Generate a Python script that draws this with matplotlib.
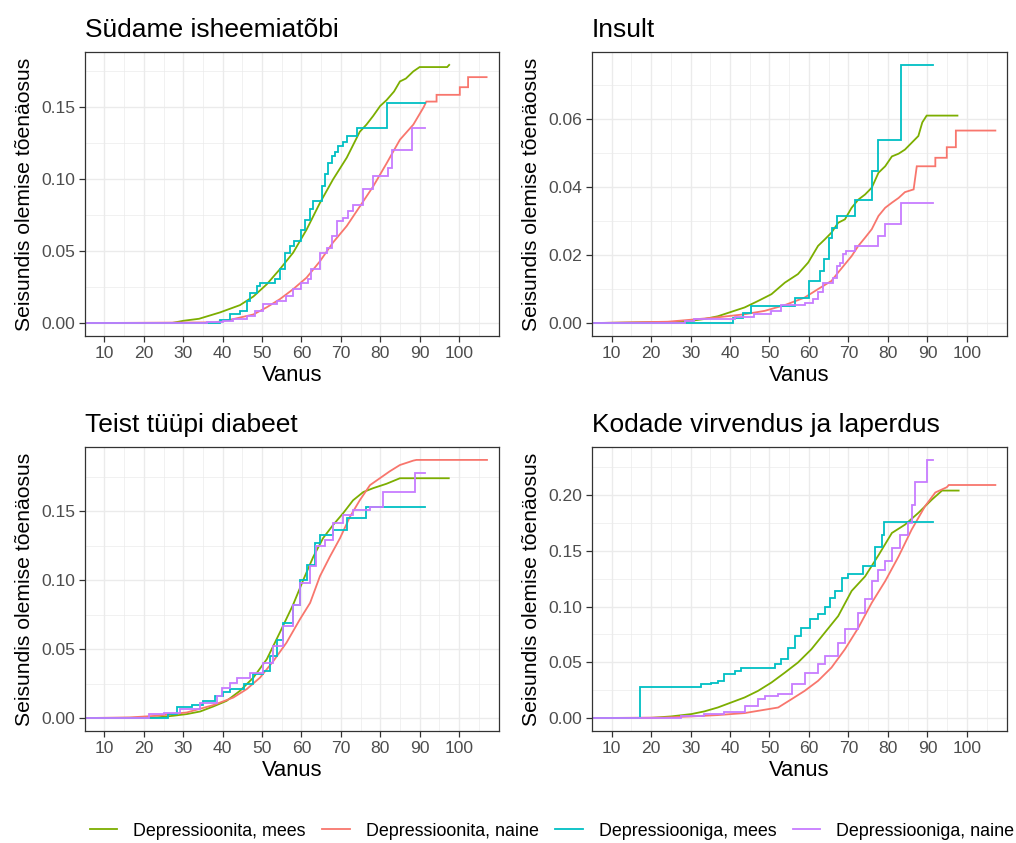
import matplotlib
matplotlib.use("Agg")
import matplotlib.pyplot as plt
from matplotlib.lines import Line2D
from matplotlib.ticker import FixedLocator, FormatStrFormatter

plt.rcParams['font.family'] = ['Liberation Sans', 'DejaVu Sans']

group_labels = ['Depressioonita, mees', 'Depressioonita, naine',
                'Depressiooniga, mees', 'Depressiooniga, naine']
group_colors = ['#7CAE00', '#F8766D', '#00BFC4', '#C77CFF']
# big groups look smooth, small groups are clear steps
group_style = ['default', 'default', 'steps-post', 'steps-post']

titles = ['Südame isheemiatõbi', 'Insult',
          'Teist tüüpi diabeet', 'Kodade virvendus ja laperdus']

x_ticks = [10, 20, 30, 40, 50, 60, 70, 80, 90, 100]
y_ticks = [[0, 0.05, 0.10, 0.15],
           [0, 0.02, 0.04, 0.06],
           [0, 0.05, 0.10, 0.15],
           [0, 0.05, 0.10, 0.15, 0.20]]

# --- Südame isheemiatõbi ---
ihd_m_age = [5, 27, 30, 34, 39.3, 44.4, 47.8, 51.2, 54.5, 57.9, 61.3, 64.7, 68, 71.5,
             74.8, 76.5, 78.2, 80, 81.6, 83.5, 85, 86.5, 88.4, 90, 97, 97.5]
ihd_m_val = [0, 0, 0.0016, 0.003, 0.0074, 0.0125, 0.0185, 0.027, 0.0374, 0.049, 0.065,
             0.0836, 0.0998, 0.115, 0.133, 0.138, 0.144, 0.151, 0.155, 0.161, 0.168, 0.170,
             0.175, 0.178, 0.178, 0.1795]
ihd_f_age = [5, 38, 42.7, 47.8, 51.2, 54.5, 57.9, 61.3, 64.7, 68, 71.5, 74.8, 78.2, 81.6,
             85, 88.4, 91, 91.7, 94.3, 94.3, 100.2, 100.2, 102.3, 102.3, 107]
ihd_f_val = [0, 0.0005, 0.0028, 0.006, 0.011, 0.0166, 0.0236, 0.0316, 0.043, 0.056, 0.0675,
             0.081, 0.095, 0.111, 0.1275, 0.138, 0.150, 0.154, 0.154, 0.1587, 0.1587, 0.164,
             0.164, 0.171, 0.171]
ihd_dm_age = [5, 39.3, 41.9, 44.4, 46.1, 47, 48.6, 49.5, 53.3, 54.5, 55.8, 57, 58, 60, 60.9,
              62.2, 63, 65.1, 66, 66.8, 67.7, 68.5, 69.3, 70.6, 71.5, 74.2, 81.6, 91.4]
ihd_dm_val = [0, 0.0023, 0.0062, 0.0085, 0.0155, 0.0206, 0.026, 0.028, 0.0305, 0.0374, 0.049,
              0.0536, 0.057, 0.065, 0.072, 0.079, 0.085, 0.095, 0.104, 0.111, 0.116, 0.119,
              0.123, 0.126, 0.130, 0.1356, 0.153, 0.153]
ihd_df_age = [5, 27, 36, 40, 42.7, 46.1, 48.2, 50.3, 53.7, 56.2, 57.9, 60, 61.7, 62.5, 64.7,
              66.4, 67.7, 68.9, 70.6, 71.9, 73.1, 75.7, 78.2, 82, 82.9, 88, 91.3]
ihd_df_val = [0, 0.0003, 0.0008, 0.0015, 0.0028, 0.005, 0.0085, 0.013, 0.0155, 0.019, 0.0236,
              0.028, 0.0305, 0.0374, 0.049, 0.052, 0.0605, 0.071, 0.073, 0.078, 0.082, 0.093,
              0.102, 0.108, 0.1206, 0.1356, 0.1356]

# --- Insult ---
str_m_age = [5, 28.5, 33.5, 36.9, 40.3, 43.7, 47.1, 50.5, 53.9, 57.2, 59.8, 62.3, 64, 65.7,
             67.4, 69.1, 70.8, 72.5, 74.2, 75.9, 77.6, 79.3, 81, 82.7, 84.3, 86, 87.7, 88.7,
             89.8, 97.6]
str_m_val = [0, 0.0004, 0.0012, 0.002, 0.0033, 0.0046, 0.0065, 0.0085, 0.0119, 0.0144, 0.0178,
             0.0227, 0.0246, 0.0266, 0.0295, 0.0305, 0.0339, 0.0363, 0.0378, 0.0398, 0.0442,
             0.0461, 0.049, 0.0498, 0.051, 0.053, 0.055, 0.059, 0.061, 0.061]
str_f_age = [5, 24.2, 30.2, 36.9, 43.7, 48.8, 53.9, 58.9, 62.3, 65.7, 67.4, 69.1, 70.8, 72.5,
             74.2, 75.9, 77.6, 79.3, 81, 82.7, 84.3, 86.5, 87.3, 92, 92, 94.9, 94.9, 97.2,
             97.2, 107.2]
str_f_val = [0, 0.0004, 0.001, 0.0017, 0.0026, 0.0036, 0.0053, 0.0075, 0.010, 0.0124, 0.0149,
             0.0173, 0.0197, 0.0227, 0.0251, 0.0276, 0.0315, 0.0339, 0.0354, 0.0368, 0.0385,
             0.0393, 0.0461, 0.0461, 0.0486, 0.0486, 0.0517, 0.0517, 0.0566, 0.0566]
str_dm_age = [5, 40.7, 43.3, 45.2, 56.4, 60, 62.8, 63.8, 65, 65.9, 67.1, 71.6, 75.9, 77.4,
              83.3, 91.5]
str_dm_val = [0, 0.0014, 0.0031, 0.0051, 0.0073, 0.0124, 0.0153, 0.0188, 0.0251, 0.028,
              0.0315, 0.0361, 0.0446, 0.0537, 0.0759, 0.0759]
str_df_age = [5, 28.5, 31, 41.2, 46.2, 50.5, 53, 58.9, 61, 62.3, 63.6, 66.1, 67, 67.8, 68.7,
              69.5, 71.6, 77.6, 79.3, 83.3, 91.5]
str_df_val = [0, 0.0007, 0.0012, 0.0017, 0.0026, 0.0036, 0.0053, 0.006, 0.007, 0.009, 0.0119,
              0.0134, 0.0168, 0.0178, 0.0202, 0.0212, 0.0227, 0.0256, 0.029, 0.0352, 0.0352]

# --- Teist tüüpi diabeet ---
t2d_m_age = [5, 17.4, 23.3, 27.5, 30.9, 34.3, 37.6, 41, 44.4, 47.8, 51.2, 54.5, 57.9, 60.5,
             63, 65.5, 68, 70.6, 73.1, 75.7, 78.2, 81.6, 85, 97.4]
t2d_m_val = [0, 0.0002, 0.0005, 0.0017, 0.0029, 0.0048, 0.0084, 0.0125, 0.0198, 0.0294,
             0.0427, 0.062, 0.0824, 0.1005, 0.117, 0.1306, 0.140, 0.1487, 0.158, 0.164,
             0.1668, 0.170, 0.174, 0.174]
t2d_f_age = [5, 16.5, 23.3, 30.9, 37.6, 42.7, 46.1, 49.5, 52.9, 56.2, 59.6, 62.2, 64.7, 67.2,
             69.8, 72.3, 74.8, 77.4, 79.9, 82.4, 85, 88.4, 89.2, 107.1]
t2d_f_val = [0, 0.0005, 0.0017, 0.0041, 0.0094, 0.0149, 0.021, 0.0294, 0.0415, 0.0547, 0.0716,
             0.0836, 0.103, 0.117, 0.1306, 0.146, 0.158, 0.169, 0.174, 0.179, 0.1836, 0.1868,
             0.1873, 0.1873]
t2d_dm_age = [5, 26.2, 28.3, 32.1, 35.1, 38.1, 40.2, 41.9, 45.3, 47.8, 50.3, 52, 53.7, 55.4,
              57.9, 59.6, 61.3, 63.4, 64.7, 68, 71.5, 76.5, 91.3]
t2d_dm_val = [0, 0.0029, 0.0077, 0.0094, 0.0125, 0.0161, 0.0186, 0.021, 0.0246, 0.0318,
              0.0342, 0.045, 0.057, 0.069, 0.0824, 0.1005, 0.111, 0.127, 0.133, 0.1366, 0.145,
              0.1535, 0.1535]
t2d_df_age = [5, 21.2, 25, 29.2, 34.3, 38.5, 39.8, 41.9, 43.6, 46.9, 50.3, 52.9, 55.4, 57.9,
              59.6, 62.2, 63.8, 66, 68, 70.6, 73.1, 77.4, 80.8, 88.8, 91.3]
t2d_df_val = [0, 0.0029, 0.004, 0.0065, 0.0113, 0.016, 0.022, 0.0258, 0.0294, 0.033, 0.040,
              0.052, 0.0668, 0.0824, 0.098, 0.110, 0.1246, 0.129, 0.1415, 0.1475, 0.151,
              0.1535, 0.164, 0.1776, 0.1776]

# --- Kodade virvendus ja laperdus ---
af_m_age = [5, 20, 25.1, 30.2, 33.5, 36.9, 40.3, 43.7, 47.1, 50.5, 53.9, 57.2, 60.6, 64,
            67.4, 70.8, 74.2, 77.6, 81, 84.3, 87.7, 91.1, 93.7, 97.9]
af_m_val = [0, 0.0002, 0.0015, 0.0036, 0.006, 0.0095, 0.014, 0.0185, 0.0244, 0.0319, 0.0408,
            0.0498, 0.0617, 0.0766, 0.0915, 0.114, 0.127, 0.146, 0.166, 0.1734, 0.184,
            0.1958, 0.204, 0.204]
af_f_age = [5, 23.4, 30.2, 36.9, 43.7, 48.8, 52.2, 55.6, 58.9, 62.3, 65.7, 69.1, 72.5, 75.9,
            79.3, 82.7, 86, 89.4, 92, 94.9, 95.4, 107.2]
af_f_val = [0, 0.0005, 0.0015, 0.0027, 0.0045, 0.0075, 0.0095, 0.017, 0.0244, 0.0334, 0.0453,
            0.0617, 0.081, 0.1034, 0.1228, 0.145, 0.169, 0.190, 0.2023, 0.207, 0.209, 0.209]
af_dm_age = [5, 17.2, 32.7, 35.2, 36.9, 38.6, 41.2, 42.9, 51.3, 53, 54.7, 56.4, 58.1, 60.2,
             62.3, 64, 65.3, 66.6, 68.3, 69.9, 73.8, 76.7, 78.4, 79.1, 91.5]
af_dm_val = [0, 0.0283, 0.0304, 0.0319, 0.0334, 0.0393, 0.0423, 0.0453, 0.0483, 0.0527, 0.063,
             0.0736, 0.081, 0.0885, 0.093, 0.100, 0.108, 0.114, 0.1258, 0.1296, 0.136, 0.153,
             0.1645, 0.1755, 0.1755]
af_df_age = [5, 27.6, 33.5, 38.6, 43.7, 47.1, 48.8, 52.2, 55.6, 58.9, 62.3, 64, 67.4, 69.1,
             72.5, 74.2, 75.9, 77.6, 79.3, 81, 83.1, 85.2, 86, 86.9, 89.8, 91.5]
af_df_val = [0, 0.0021, 0.0036, 0.0057, 0.011, 0.017, 0.020, 0.0215, 0.0304, 0.0408, 0.0483,
             0.0557, 0.0677, 0.0796, 0.0945, 0.1064, 0.1228, 0.133, 0.1407, 0.1526, 0.1645,
             0.175, 0.191, 0.212, 0.2315, 0.2315]

panels = [
    [(ihd_m_age, ihd_m_val), (ihd_f_age, ihd_f_val), (ihd_dm_age, ihd_dm_val), (ihd_df_age, ihd_df_val)],
    [(str_m_age, str_m_val), (str_f_age, str_f_val), (str_dm_age, str_dm_val), (str_df_age, str_df_val)],
    [(t2d_m_age, t2d_m_val), (t2d_f_age, t2d_f_val), (t2d_dm_age, t2d_dm_val), (t2d_df_age, t2d_df_val)],
    [(af_m_age, af_m_val), (af_f_age, af_f_val), (af_dm_age, af_dm_val), (af_df_age, af_df_val)],
]

W, H = 1016, 843
fig = plt.figure(figsize=(W / 100, H / 100), dpi=100)

# panel boxes in pixels: left, top, right, bottom
boxes = [(85, 52, 499, 336), (592, 52, 1007, 336),
         (85, 447, 499, 731), (592, 447, 1007, 731)]

for i, series in enumerate(panels):
    l, t, r, b = boxes[i]
    ax = fig.add_axes([l / W, 1 - b / H, (r - l) / W, (b - t) / H])
    ymax = 0
    for j, (ages, vals) in enumerate(series):
        ax.plot(ages, vals, color=group_colors[j], lw=1.3, drawstyle=group_style[j],
                solid_joinstyle='miter')
        ymax = max(ymax, max(vals))
    ax.set_xlim(5.05, 110.15)
    ax.set_ylim(-0.05 * ymax, 1.05 * ymax)

    yt = y_ticks[i]
    ax.set_xticks(x_ticks)
    ax.set_yticks(yt)
    step = yt[1] - yt[0]
    ax.xaxis.set_minor_locator(FixedLocator([x + 5 for x in [0] + x_ticks]))
    ax.yaxis.set_minor_locator(FixedLocator([y + step / 2 for y in yt]))
    ax.yaxis.set_major_formatter(FormatStrFormatter('%.2f'))
    ax.grid(which='major', color='#EBEBEB', lw=1.0)
    ax.grid(which='minor', color='#EBEBEB', lw=0.5)
    ax.set_axisbelow(True)
    for s in ax.spines.values():
        s.set_color('#333333')
        s.set_linewidth(0.9)
    ax.tick_params(which='major', length=4, width=0.9, color='#333333',
                   labelsize=12.6, labelcolor='#4D4D4D', pad=3)
    ax.tick_params(which='minor', length=0)

    ax.set_title(titles[i], loc='left', fontsize=19, pad=11)
    ax.set_xlabel('Vanus', fontsize=15.8, labelpad=3)
    ax.set_ylabel('Seisundis olemise tõenäosus', fontsize=15.2, labelpad=5)

handles = [Line2D([], [], color=c, lw=1.3) for c in group_colors]
fig.legend(handles, group_labels, loc='center', bbox_to_anchor=(0.5433, 0.014), ncol=4,
           frameon=False, fontsize=12.9, handlelength=1.55, handletextpad=0.9,
           columnspacing=0.9)

fig.savefig('out.png', dpi=100)
